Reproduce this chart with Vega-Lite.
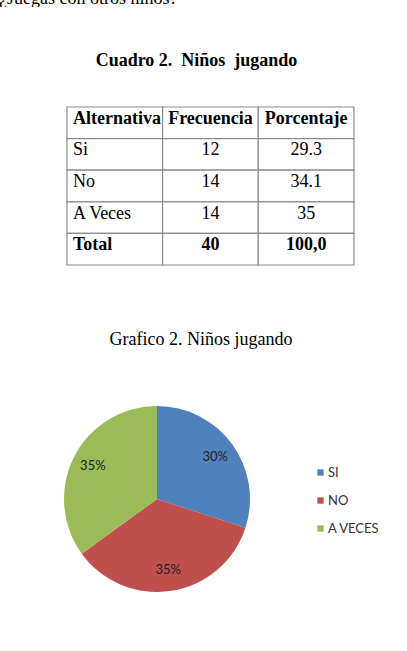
{
  "$schema": "https://vega.github.io/schema/vega-lite/v6.json",
  "padding": 0,
  "spacing": 0,
  "background": "white",
  "config": {"view": {"stroke": null}, "font": "Liberation Serif"},
  "datasets": {
    "pregunta": [{"texto": "¿Juegas con otros niños?"}],
    "titulos": [
      {"parte": "cuadro", "texto": "Cuadro 2.\u00a0 Niños\u00a0 jugando"},
      {"parte": "grafico", "texto": "Grafico 2. Niños jugando"}
    ],
    "tabla": [
      {"fila": "Encabezado", "columna": "Alternativa", "texto": "Alternativa"},
      {"fila": "Encabezado", "columna": "Frecuencia", "texto": "Frecuencia"},
      {"fila": "Encabezado", "columna": "Porcentaje", "texto": "Porcentaje"},
      {"fila": "Si", "columna": "Alternativa", "texto": "Si"},
      {"fila": "Si", "columna": "Frecuencia", "texto": "12"},
      {"fila": "Si", "columna": "Porcentaje", "texto": "29.3"},
      {"fila": "No", "columna": "Alternativa", "texto": "No"},
      {"fila": "No", "columna": "Frecuencia", "texto": "14"},
      {"fila": "No", "columna": "Porcentaje", "texto": "34.1"},
      {"fila": "A Veces", "columna": "Alternativa", "texto": "A Veces"},
      {"fila": "A Veces", "columna": "Frecuencia", "texto": "14"},
      {"fila": "A Veces", "columna": "Porcentaje", "texto": "35"},
      {"fila": "Total", "columna": "Alternativa", "texto": "Total"},
      {"fila": "Total", "columna": "Frecuencia", "texto": "40"},
      {"fila": "Total", "columna": "Porcentaje", "texto": "100,0"}
    ],
    "grafico": [
      {"alternativa": "SI", "frecuencia": 12, "etiqueta": "30%"},
      {"alternativa": "NO", "frecuencia": 14, "etiqueta": "35%"},
      {"alternativa": "A VECES", "frecuencia": 14, "etiqueta": "35%"}
    ]
  },
  "vconcat": [
    {
      "width": 407,
      "height": 7,
      "data": {"name": "pregunta"},
      "mark": {"type": "text", "clip": true, "align": "left", "baseline": "alphabetic", "fontSize": 18, "dx": -1, "color": "#000"},
      "encoding": {
        "text": {"field": "texto"},
        "x": {"datum": 0, "type": "quantitative", "scale": {"domain": [0, 1]}, "axis": null}
      }
    },
    {
      "width": 407,
      "height": 99,
      "data": {"name": "titulos"},
      "transform": [{"filter": "datum.parte == 'cuadro'"}],
      "mark": {"type": "text", "fontWeight": "bold", "fontSize": 18, "baseline": "middle", "align": "center", "dx": -7, "dy": 4, "color": "#000"},
      "encoding": {"text": {"field": "texto"}}
    },
    {
      "width": 407,
      "height": 158,
      "data": {"name": "tabla"},
      "encoding": {
        "x": {"field": "columna", "type": "nominal", "axis": null,
              "scale": {"domain": ["Alternativa", "Frecuencia", "Porcentaje"], "paddingInner": 0, "paddingOuter": 0.627, "align": 0.558}},
        "y": {"field": "fila", "type": "nominal", "axis": null,
              "scale": {"domain": ["Encabezado", "Si", "No", "A Veces", "Total"], "paddingInner": 0, "paddingOuter": 0}},
        "text": {"field": "texto"}
      },
      "layer": [
        {"mark": {"type": "rect", "fill": "white", "stroke": "#8c8c8c", "strokeWidth": 1.2}},
        {
          "transform": [{"filter": "datum.columna == 'Alternativa' && (datum.fila == 'Si' || datum.fila == 'No' || datum.fila == 'A Veces')"}],
          "mark": {"type": "text", "align": "left", "baseline": "middle", "fontSize": 18, "dx": 6, "dy": -4, "color": "#000"},
          "encoding": {"x": {"field": "columna", "type": "nominal", "bandPosition": 0}}
        },
        {
          "transform": [{"filter": "datum.columna == 'Alternativa' && (datum.fila == 'Encabezado' || datum.fila == 'Total')"}],
          "mark": {"type": "text", "align": "left", "baseline": "middle", "fontSize": 18, "fontWeight": "bold", "dx": 6, "dy": -4, "color": "#000"},
          "encoding": {"x": {"field": "columna", "type": "nominal", "bandPosition": 0}}
        },
        {
          "transform": [{"filter": "datum.columna != 'Alternativa' && (datum.fila == 'Si' || datum.fila == 'No' || datum.fila == 'A Veces')"}],
          "mark": {"type": "text", "align": "center", "baseline": "middle", "fontSize": 18, "dy": -4, "color": "#000"}
        },
        {
          "transform": [{"filter": "datum.columna != 'Alternativa' && (datum.fila == 'Encabezado' || datum.fila == 'Total')"}],
          "mark": {"type": "text", "align": "center", "baseline": "middle", "fontSize": 18, "fontWeight": "bold", "dy": -4, "color": "#000"}
        }
      ]
    },
    {
      "width": 407,
      "height": 140,
      "data": {"name": "titulos"},
      "transform": [{"filter": "datum.parte == 'grafico'"}],
      "mark": {"type": "text", "fontSize": 18, "baseline": "middle", "align": "center", "dx": -2.5, "dy": 3.5, "color": "#000"},
      "encoding": {"text": {"field": "texto"}}
    },
    {
      "width": 314,
      "height": 186,
      "data": {"name": "grafico"},
      "encoding": {
        "theta": {"field": "frecuencia", "type": "quantitative", "stack": true}
      },
      "layer": [
        {
          "mark": {"type": "arc", "radius": 93},
          "encoding": {
            "order": {"field": "alternativa", "type": "nominal", "sort": "descending"},
            "color": {"field": "alternativa", "type": "nominal",
              "scale": {"domain": ["SI", "NO", "A VECES"], "range": ["#4F81BD", "#C0504D", "#9BBB59"]},
              "legend": {"title": null, "orient": "none", "legendX": 314, "legendY": 466, "padding": 0,
                "symbolType": "square", "symbolSize": 40, "symbolStrokeWidth": 0, "rowPadding": 14,
                "labelFont": "Lato", "labelFontSize": 13, "labelColor": "#333", "labelOffset": 1}}
          }
        },
        {
          "mark": {"type": "text", "radius": 72, "font": "Lato", "fontSize": 13, "color": "#222"},
          "encoding": {"text": {"field": "etiqueta"}}
        }
      ]
    }
  ]
}
